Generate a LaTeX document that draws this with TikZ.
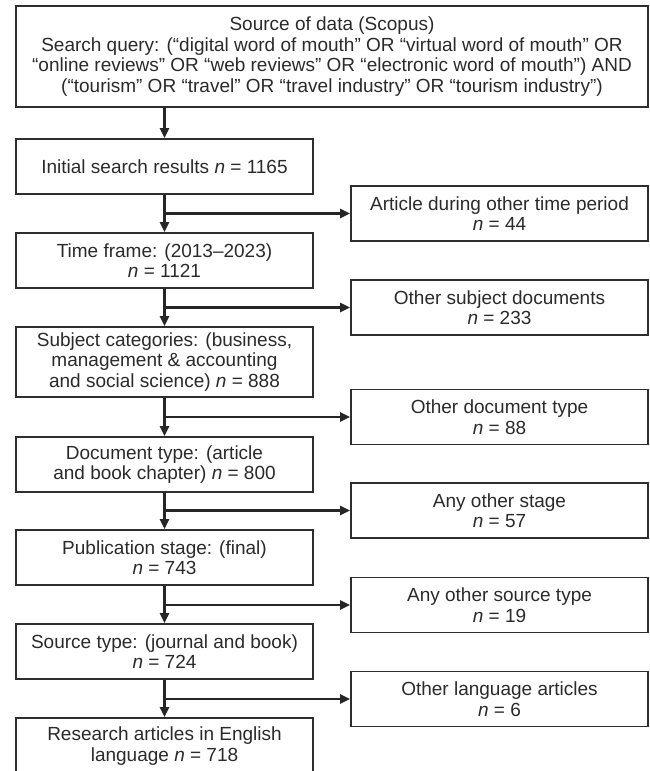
\documentclass[tikz,border=0pt]{standalone}
\usepackage{fontspec}
\setmainfont{Liberation Sans}
\usetikzlibrary{arrows.meta}
\definecolor{boxc}{HTML}{2E2E2E}
\definecolor{txtc}{HTML}{2A2A2A}
\definecolor{arrc}{HTML}{262626}
\begin{document}
\begin{tikzpicture}[x=1pt,y=-1pt,
  box/.style={draw=boxc, line width=1.8pt, align=center, inner sep=0pt,
    font=\fontsize{19}{20.5}\selectfont, text=txtc},
  lbox/.style={box, minimum width=297pt, minimum height=55pt},
  rbox/.style={box, minimum width=297pt, minimum height=55pt},
  arr/.style={draw=arrc, line width=2.4pt, -{Triangle[length=10pt,width=9pt]}}]
\useasboundingbox (0,0) rectangle (650,771);
\node[box, minimum width=632pt, minimum height=101pt] (src) at (332,56.5)
  {Source of data (Scopus)\\Search query: (“digital word of mouth” OR “virtual word of mouth” OR\\“online reviews” OR “web reviews” OR “electronic word of mouth”) AND\\(“tourism” OR “travel” OR “travel industry” OR “tourism industry”)};
\node[lbox] (init) at (164.5,166.5) {Initial search results \textit{n} = 1165};
\node[lbox] (time) at (164.5,260.5) {Time frame: (2013–2023)\\\textit{n} = 1121};
\node[lbox, minimum height=70pt] (subj) at (164.5,362) {Subject categories: (business,\\management \& accounting\\and social science) \textit{n} = 888};
\node[lbox] (doc) at (164.5,464.5) {Document type: (article\\and book chapter) \textit{n} = 800};
\node[lbox] (pub) at (164.5,557.5) {Publication stage: (final)\\\textit{n} = 743};
\node[lbox] (stype) at (164.5,651.5) {Source type: (journal and book)\\\textit{n} = 724};
\node[lbox, minimum height=56pt] (res) at (164.5,746) {Research articles in English\\language \textit{n} = 718};
\node[rbox] (r1) at (499.5,213.5) {Article during other time period\\\textit{n} = 44};
\node[rbox] (r2) at (499.5,307.5) {Other subject documents\\\textit{n} = 233};
\node[rbox] (r3) at (499.5,417) {Other document type\\\textit{n} = 88};
\node[rbox] (r4) at (499.5,510.5) {Any other stage\\\textit{n} = 57};
\node[rbox] (r5) at (499.5,605) {Any other source type\\\textit{n} = 19};
\node[rbox] (r6) at (499.5,699) {Other language articles\\\textit{n} = 6};
\draw[arr] (init.north |- src.south) -- (init.north);
\draw[arr] (init.south) -- (time.north);
\draw[arr] (time.south) -- (subj.north);
\draw[arr] (subj.south) -- (doc.north);
\draw[arr] (doc.south) -- (pub.north);
\draw[arr] (pub.south) -- (stype.north);
\draw[arr] (stype.south) -- (res.north);
\draw[arr] (init.south |- r1.west) -- (r1.west);
\draw[arr] (time.south |- r2.west) -- (r2.west);
\draw[arr] (subj.south |- r3.west) -- (r3.west);
\draw[arr] (doc.south |- r4.west) -- (r4.west);
\draw[arr] (pub.south |- r5.west) -- (r5.west);
\draw[arr] (stype.south |- r6.west) -- (r6.west);
\end{tikzpicture}
\end{document}
